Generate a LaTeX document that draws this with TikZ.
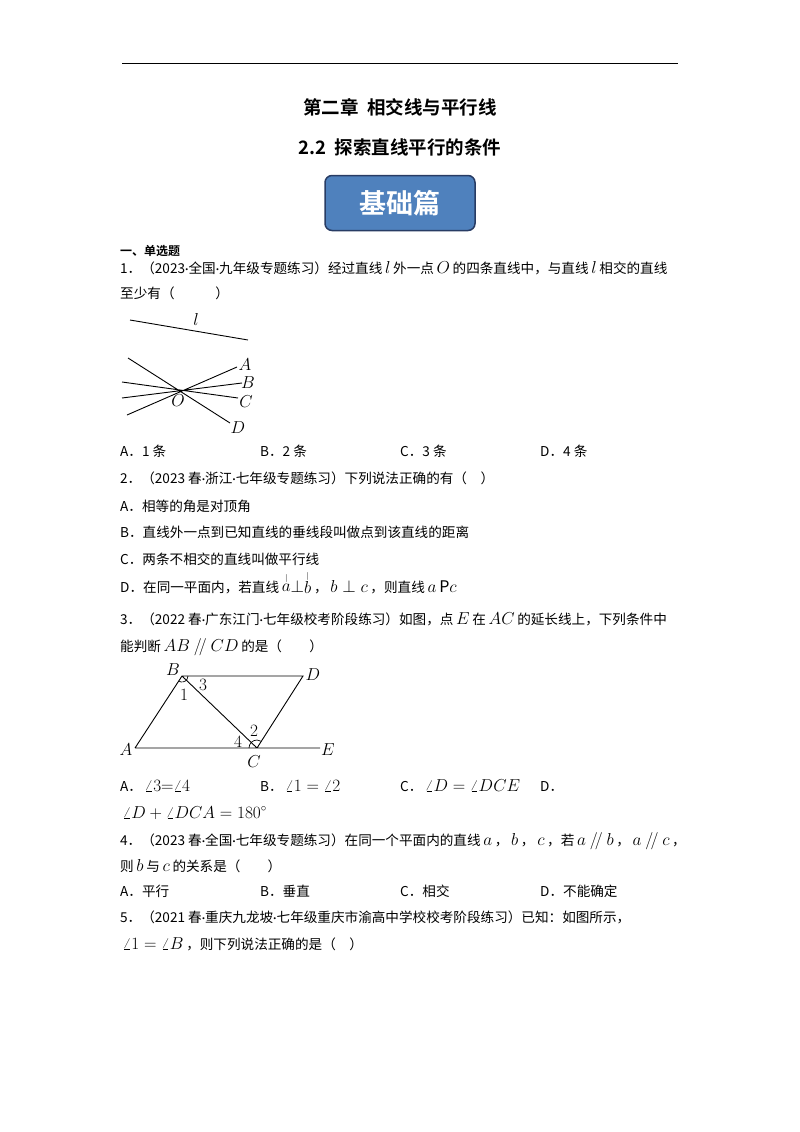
\documentclass[tikz,border=0pt]{standalone}
\usepackage{fontspec}
\usetikzlibrary{calc}
\setmainfont{Noto Sans CJK SC}[BoldFont={Noto Sans CJK SC Bold}]
\newfontfamily\latf{Carlito}
\newcommand{\dd}{{\latf ·}}
\newcommand{\mm}[1]{{\fontsize{16}{16}\selectfont\,$#1$\,}}
\begin{document}
\begin{tikzpicture}[x=1pt,y=-1pt,
  txt/.style={anchor=base west,inner sep=0pt,font=\fontsize{13.6}{15}\selectfont},
  ttl/.style={anchor=base,inner sep=0pt,font=\fontsize{18.5}{22}\selectfont\bfseries},
  lbl/.style={inner sep=0pt,font=\fontsize{16}{16}\selectfont},
  fig/.style={line width=0.9pt}]
\useasboundingbox (0,0) rectangle (800,1132);
\fill[white] (0,0) rectangle (800,1132);
\coordinate (r1) at (122,63); \coordinate (r2) at (678,63);
\draw[line width=0.8pt] (r1) -- (r2);
\node[ttl] (t1) at (400,114) {第二章\ \ 相交线与平行线};
\node[ttl] (t2) at (400,154) {2.2\ \ 探索直线平行的条件};
\node[draw={rgb,255:red,40;green,60;blue,100},line width=1.5pt,fill={rgb,255:red,79;green,129;blue,189},rounded corners=7pt,minimum width=150pt,minimum height=55pt,text=white,font=\fontsize{27}{30}\selectfont\bfseries] (badge) at (400,203) {基础篇};
\node[txt,font=\fontsize{12}{14}\selectfont\bfseries] (h) at (120,255) {一、单选题};
\node[txt] (q1a) at (120,273) {1．（2023\dd 全国\dd 九年级专题练习）经过直线\mm{l}外一点\mm{O}的四条直线中，与直线\mm{l}相交的直线};
\node[txt] (q1b) at (120,298) {至少有（\qquad\quad）};
% figure 1
\coordinate (l1) at (130,320); \coordinate (l2) at (248,340);
\draw[fig] (l1) -- (l2);
\node[lbl] (ll) at (196,319) {$l$};
\coordinate (A1) at (237,367); \coordinate (A2) at (127,415);
\coordinate (B1) at (242,383); \coordinate (C2) at (122,382);
\coordinate (C1) at (238,398); \coordinate (B2) at (122,398);
\coordinate (D1) at (230,423); \coordinate (D2) at (128,358);
\draw[fig] (A2)--(A1) (B2)--(B1) (C2)--(C1) (D2)--(D1);
\node[lbl] (la) at (245,365) {$A$};
\node[lbl] (lb) at (248,383) {$B$};
\node[lbl] (lc) at (246,402) {$C$};
\node[lbl] (ld) at (238,428) {$D$};
\node[lbl] (lo) at (178,401) {$O$};
\node[txt] (o1a) at (120,456) {A．1 条};
\node[txt] (o1b) at (260,456) {B．2 条};
\node[txt] (o1c) at (400,456) {C．3 条};
\node[txt] (o1d) at (540,456) {D．4 条};
\node[txt] (q2) at (120,483) {2．（2023 春\dd 浙江\dd 七年级专题练习）下列说法正确的有（\quad）};
\node[txt] (q2a) at (120,511) {A．相等的角是对顶角};
\node[txt] (q2b) at (120,537) {B．直线外一点到已知直线的垂线段叫做点到该直线的距离};
\node[txt] (q2c) at (120,564) {C．两条不相交的直线叫做平行线};
\node[txt] (q2d) at (120,592) {D．在同一平面内，若直线\mm{\stackrel{\scriptscriptstyle |}{a}\perp\stackrel{\scriptscriptstyle |}{b}}，\mm{b\perp c}，则直线\mm{a\,\mathrm{P}c}};
\node[txt] (q3a) at (120,624) {3．（2022 春\dd 广东江门\dd 七年级校考阶段练习）如图，点\mm{E}在\mm{AC}的延长线上，下列条件中};
\node[txt] (q3b) at (120,651) {能判断\mm{AB\mathbin{/\!/}CD}的是（\qquad）};
% figure 2
\coordinate (B) at (182,676); \coordinate (D) at (303,676);
\coordinate (A) at (135,748); \coordinate (C) at (257,748); \coordinate (E) at (320,748);
\draw[fig] (A)--(B)--(D)--(C) (B)--(C) (A)--(E);
\draw[line width=0.7pt] ($(B)+(123:6)$) arc[start angle=123,end angle=0,radius=6];
\draw[line width=0.7pt] ($(C)+(180:8)$) arc[start angle=180,end angle=303,radius=8];
\node[lbl] (lB) at (173,670) {$B$};
\node[lbl] (lD) at (313,675) {$D$};
\node[lbl] (lA) at (126,750) {$A$};
\node[lbl] (lC) at (254,762) {$C$};
\node[lbl] (lE) at (328,750) {$E$};
\node[lbl] (n1) at (184,695) {$1$};
\node[lbl] (n3) at (203,685) {$3$};
\node[lbl] (n4) at (238,742) {$4$};
\node[lbl] (n2) at (254,731) {$2$};
\node[txt] (o3a) at (120,791) {A．\mm{\angle 3{=}\angle 4}};
\node[txt] (o3b) at (260,791) {B．\mm{\angle 1=\angle 2}};
\node[txt] (o3c) at (400,791) {C．\mm{\angle D=\angle DCE}};
\node[txt] (o3d) at (540,791) {D．};
\node[txt] (o3e) at (120,818) {\mm{\angle D+\angle DCA=180^\circ}};
\node[txt] (q4a) at (120,845) {4．（2023 春\dd 全国\dd 七年级专题练习）在同一个平面内的直线\mm{a}，\mm{b}，\mm{c}，若\mm{a\mathbin{/\!/}b}，\mm{a\mathbin{/\!/}c}，};
\node[txt] (q4b) at (120,871) {则\mm{b}与\mm{c}的关系是（\qquad）};
\node[txt] (o4a) at (120,896) {A．平行};
\node[txt] (o4b) at (260,896) {B．垂直};
\node[txt] (o4c) at (400,896) {C．相交};
\node[txt] (o4d) at (540,896) {D．不能确定};
\node[txt] (q5a) at (120,922) {5．（2021 春\dd 重庆九龙坡\dd 七年级重庆市渝高中学校校考阶段练习）已知：如图所示，};
\node[txt] (q5b) at (120,949) {\mm{\angle 1=\angle B}，则下列说法正确的是（\quad）};
\end{tikzpicture}
\end{document}
